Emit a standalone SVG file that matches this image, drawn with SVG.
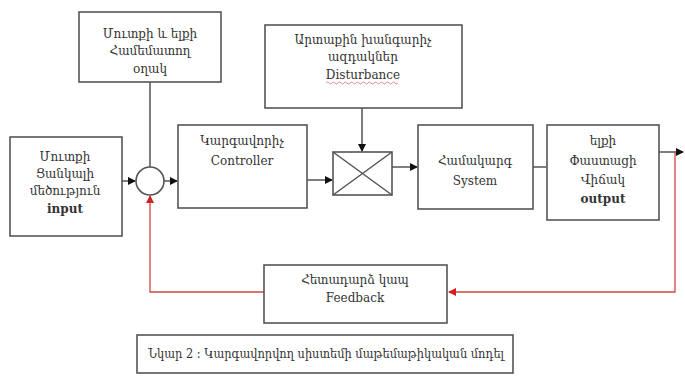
<svg xmlns="http://www.w3.org/2000/svg" width="685" height="384" viewBox="0 0 685 384">
<style>
.box{fill:#fff;stroke:#555;stroke-width:1.6}
.ln{fill:none;stroke:#555;stroke-width:1.5}
.fb{fill:none;stroke:#d04545;stroke-width:1.3}
text{font-family:"DejaVu Serif",serif;font-size:12px;fill:#333;text-anchor:middle}
.b{font-weight:bold}
</style>
<defs>
<marker id="ah" markerWidth="8" markerHeight="8" refX="7" refY="4" orient="auto" markerUnits="userSpaceOnUse"><path d="M0,0 L8,4 L0,8 z" fill="#111"/></marker>
<marker id="ahr" markerWidth="8" markerHeight="8" refX="7" refY="4" orient="auto" markerUnits="userSpaceOnUse"><path d="M0,0 L8,4 L0,8 z" fill="#d02020"/></marker>
</defs>
<rect width="685" height="384" fill="#fff"/>
<g id="connectors">
<path class="ln" d="M122,181 H135" marker-end="url(#ah)"/>
<path class="ln" d="M150,82 V167"/>
<path class="ln" d="M164,181 H177" marker-end="url(#ah)"/>
<path class="ln" d="M307,180 H332" marker-end="url(#ah)"/>
<path class="ln" d="M362,108 V151" marker-end="url(#ah)"/>
<path class="ln" d="M392,167 H417" marker-end="url(#ah)"/>
<path class="ln" d="M533,167 H546"/>
<path class="ln" d="M659,152 H683" marker-end="url(#ah)"/>
<path class="fb" d="M675,152 V292 H449" marker-end="url(#ahr)"/>
<path class="fb" d="M264,292 H150 V196" marker-end="url(#ahr)"/>
</g>
<g id="input">
<rect class="box" x="10" y="137" width="112" height="99"/>
<text x="65" y="161">Մուտքի</text>
<text x="65" y="178">Ցանկալի</text>
<text x="65" y="195">մեծություն</text>
<text x="65" y="213" class="b">input</text>
</g>
<g id="comparator">
<rect class="box" x="79" y="12" width="142" height="70"/>
<text x="150" y="38">Մուտքի և ելքի</text>
<text x="150" y="55">Համեմատող</text>
<text x="150" y="73">օղակ</text>
</g>
<g id="junction">
<circle cx="150" cy="181" r="14" fill="#fff" stroke="#555" stroke-width="1.6"/>
</g>
<g id="controller">
<rect class="box" x="178" y="125" width="129" height="83"/>
<text x="242" y="145">Կարգավորիչ</text>
<text x="242" y="165">Controller</text>
</g>
<g id="disturbance">
<rect class="box" x="265" y="25" width="197" height="83"/>
<text x="363" y="44">Արտաքին խանգարիչ</text>
<text x="363" y="61">ազդակներ</text>
<text x="363" y="79">Disturbance</text>
<path d="M326,83 q1.5,-2 3,0 t3,0 t3,0 t3,0 t3,0 t3,0 t3,0 t3,0 t3,0 t3,0 t3,0 t3,0 t3,0 t3,0 t3,0 t3,0 t3,0 t3,0 t3,0 t3,0 t3,0 t3,0 t3,0 t3,0" fill="none" stroke="#e07070" stroke-width="0.8"/>
</g>
<g id="mixer">
<rect class="box" x="333" y="152" width="59" height="43"/>
<path class="ln" d="M333,152 L392,195 M392,152 L333,195"/>
</g>
<g id="system">
<rect class="box" x="418" y="125" width="115" height="84"/>
<text x="475" y="165">Համակարգ</text>
<text x="475" y="185">System</text>
</g>
<g id="output">
<rect class="box" x="547" y="125" width="112" height="95"/>
<text x="603" y="145">ելքի</text>
<text x="603" y="165">Փաստացի</text>
<text x="603" y="184">Վիճակ</text>
<text x="603" y="203" class="b">output</text>
</g>
<g id="feedback">
<rect class="box" x="264" y="265" width="183" height="58"/>
<text x="355" y="284">Հետադարձ կապ</text>
<text x="355" y="302">Feedback</text>
</g>
<g id="caption">
<rect class="box" x="137" y="335" width="376" height="38"/>
<text x="148" y="358" style="text-anchor:start" textLength="356" lengthAdjust="spacingAndGlyphs">Նկար 2 : Կարգավորվող  սիստեմի մաթեմաթիկական մոդել</text>
</g>
</svg>
